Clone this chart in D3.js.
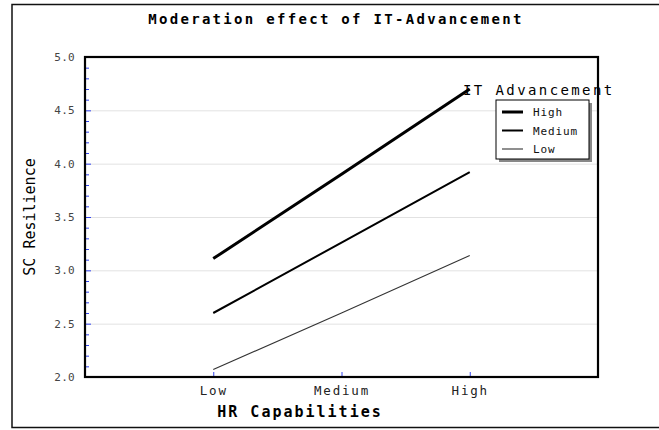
<!DOCTYPE html>
<html>
<head>
<meta charset="utf-8">
<script src="https://cdn.jsdelivr.net/npm/d3@7"></script>
<style>
    html, body { margin: 0; padding: 0; background: #fff; }
    svg { display: block; }
    .mono { font-family: "DejaVu Sans Mono", "Liberation Mono", monospace; }
</style>
</head>
<body>
<svg id="chart" width="659" height="430"></svg>
<script>
/* Moderation plot: SC Resilience by HR Capabilities, split by IT Advancement */

// categories on the x axis
const hrLevels = ['Low', 'Medium', 'High'];

// one series per IT Advancement level
const seriesNames = ['High', 'Medium', 'Low'];
const highValues = [3.11, 3.90, 4.70];
const mediumValues = [2.60, 3.26, 3.92];
const lowValues = [2.07, 2.60, 3.14];

// y axis ticks
const yMajorTicks = [2.0, 2.5, 3.0, 3.5, 4.0, 4.5, 5.0];
const yMinorTicks = d3.range(21, 50).map(v => v / 10).filter(v => Math.round(v * 10) % 5 !== 0);

(function() {
    'use strict';

    const svg = d3.select('#chart');

    const plot = { left: 85, right: 598, top: 57, bottom: 377 };

    const lineStyle = {
        High:   { width: 3,   color: '#000' },
        Medium: { width: 2,   color: '#000' },
        Low:    { width: 1.1, color: '#333' }
    };

    const series = [
        { name: 'High', values: highValues },
        { name: 'Medium', values: mediumValues },
        { name: 'Low', values: lowValues }
    ];

    // Scales
    const x = d3.scaleLinear().domain([0, hrLevels.length + 1]).range([plot.left, plot.right]);
    const y = d3.scaleLinear().domain([2, 5]).range([plot.bottom, plot.top]);
    const xPos = (i) => x(i + 1);

    // Outer frame
    svg.append('rect')
        .attr('x', 12).attr('y', 4.5)
        .attr('width', 700).attr('height', 423)
        .attr('fill', 'none')
        .attr('stroke', '#111')
        .attr('stroke-width', 1.5);

    // Title
    svg.append('text')
        .attr('class', 'mono')
        .attr('x', 336).attr('y', 24)
        .attr('text-anchor', 'middle')
        .style('font-size', '14px')
        .style('font-weight', 'bold')
        .style('letter-spacing', '2.3px')
        .text('Moderation effect of IT-Advancement');

    // Grid lines
    svg.append('g')
        .attr('transform', `translate(${plot.left},0)`)
        .call(d3.axisLeft(y)
            .tickValues(yMajorTicks.slice(1, -1))
            .tickSize(-(plot.right - plot.left))
            .tickFormat(''))
        .call(g => g.select('.domain').remove())
        .selectAll('line')
        .attr('stroke', '#e2e2e2');

    // Minor y ticks (blue, pointing in)
    svg.append('g')
        .attr('transform', `translate(${plot.left},0)`)
        .call(d3.axisRight(y).tickValues(yMinorTicks).tickSize(4).tickFormat(''))
        .call(g => g.select('.domain').remove())
        .selectAll('line')
        .attr('stroke', '#3344ee');

    // Major y ticks
    svg.append('g')
        .attr('transform', `translate(${plot.left},0)`)
        .call(d3.axisRight(y).tickValues(yMajorTicks).tickSize(6).tickFormat(''))
        .call(g => g.select('.domain').remove())
        .selectAll('line')
        .attr('stroke', '#3344ee');

    // Y tick labels
    svg.append('g')
        .attr('transform', `translate(${plot.left},0)`)
        .call(d3.axisLeft(y).tickValues(yMajorTicks).tickSize(0).tickPadding(10).tickFormat(d3.format('.1f')))
        .call(g => g.select('.domain').remove())
        .selectAll('text')
        .attr('class', 'mono')
        .style('font-size', '11px')
        .style('letter-spacing', '0.3px')
        .attr('fill', '#444');

    // X ticks (blue, pointing up)
    svg.append('g')
        .attr('transform', `translate(0,${plot.bottom})`)
        .call(d3.axisTop(x).tickValues(hrLevels.map((d, i) => i + 1)).tickSize(5).tickFormat(''))
        .call(g => g.select('.domain').remove())
        .selectAll('line')
        .attr('stroke', '#3344ee');

    // X tick labels
    svg.append('g')
        .attr('transform', `translate(0,${plot.bottom})`)
        .call(d3.axisBottom(x)
            .tickValues(hrLevels.map((d, i) => i + 1))
            .tickSize(0).tickPadding(9)
            .tickFormat((d) => hrLevels[d - 1]))
        .call(g => g.select('.domain').remove())
        .selectAll('text')
        .attr('class', 'mono')
        .style('font-size', '12.5px')
        .style('letter-spacing', '1.8px')
        .attr('fill', '#222');

    // Lines
    const line = d3.line()
        .x((d, i) => xPos(i))
        .y(d => y(d));

    svg.append('g')
        .selectAll('path')
        .data(series)
        .enter()
        .append('path')
        .attr('d', d => line(d.values))
        .attr('fill', 'none')
        .attr('stroke', d => lineStyle[d.name].color)
        .attr('stroke-width', d => lineStyle[d.name].width);

    // Plot frame
    svg.append('rect')
        .attr('x', plot.left).attr('y', plot.top)
        .attr('width', plot.right - plot.left)
        .attr('height', plot.bottom - plot.top)
        .attr('fill', 'none')
        .attr('stroke', '#000')
        .attr('stroke-width', 2.2);

    // Axis titles
    svg.append('text')
        .attr('class', 'mono')
        .attr('x', 300).attr('y', 417)
        .attr('text-anchor', 'middle')
        .style('font-size', '15px')
        .style('font-weight', 'bold')
        .style('letter-spacing', '2px')
        .text('HR Capabilities');

    svg.append('text')
        .attr('class', 'mono')
        .attr('transform', `translate(35, ${(plot.top + plot.bottom) / 2}) rotate(-90)`)
        .attr('text-anchor', 'middle')
        .style('font-size', '15px')
        .text('SC Resilience');

    // Legend
    const legend = { x: 496, y: 100, w: 93, h: 59 };

    svg.append('text')
        .attr('class', 'mono')
        .attr('x', 463).attr('y', 95)
        .style('font-size', '14px')
        .style('letter-spacing', '2.4px')
        .text('IT Advancement');

    svg.append('rect')
        .attr('x', legend.x + 3).attr('y', legend.y + 3)
        .attr('width', legend.w).attr('height', legend.h)
        .attr('fill', '#888');

    svg.append('rect')
        .attr('x', legend.x).attr('y', legend.y)
        .attr('width', legend.w).attr('height', legend.h)
        .attr('fill', '#fff')
        .attr('stroke', '#000')
        .attr('stroke-width', 1);

    const items = svg.append('g')
        .selectAll('g')
        .data(seriesNames)
        .enter()
        .append('g')
        .attr('transform', (d, i) => `translate(${legend.x}, ${legend.y + 12 + i * 18.5})`);

    items.append('line')
        .attr('x1', 6).attr('x2', 27)
        .attr('y1', 0).attr('y2', 0)
        .attr('stroke', d => lineStyle[d].color)
        .attr('stroke-width', d => lineStyle[d].width);

    items.append('text')
        .attr('class', 'mono')
        .attr('x', 37).attr('y', 4)
        .style('font-size', '11px')
        .style('letter-spacing', '0.9px')
        .attr('fill', '#111')
        .text(d => d);
})();
</script>
</body>
</html>
